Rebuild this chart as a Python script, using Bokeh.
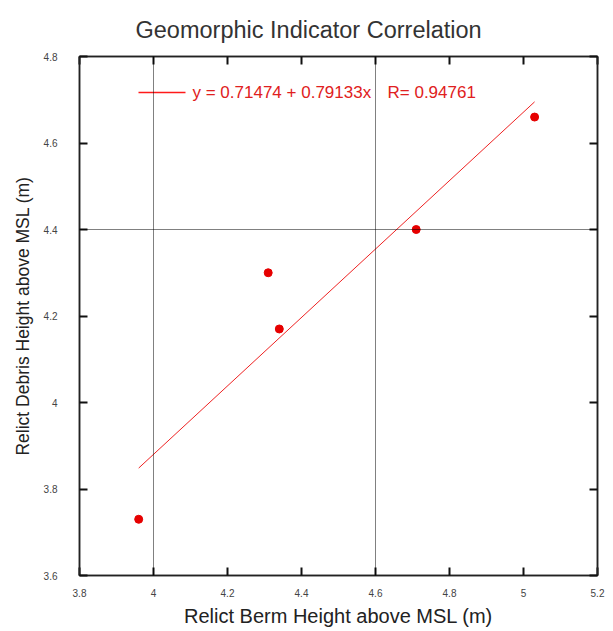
from bokeh.plotting import figure
from bokeh.models import Span, FixedTicker, Range1d, Label, LinearAxis
from bokeh.embed import file_html
from bokeh.resources import INLINE

# data
berm = [3.96, 4.31, 4.34, 4.71, 5.03]
debris = [3.73, 4.30, 4.17, 4.40, 4.66]
fit_intercept = 0.71474
fit_slope = 0.79133
fit_r = 0.94761

x_ticks = [3.8, 4.0, 4.2, 4.4, 4.6, 4.8, 5.0, 5.2]
x_tick_labels = ["3.8", "4", "4.2", "4.4", "4.6", "4.8", "5", "5.2"]
y_ticks = [3.6, 3.8, 4.0, 4.2, 4.4, 4.6, 4.8]
y_tick_labels = ["3.6", "3.8", "4", "4.2", "4.4", "4.6", "4.8"]
grid_x = [4.0, 4.6]
grid_y = [4.4]

FONT = "Liberation Sans"
RED = "#e60000"
XMIN, XMAX = 3.8, 5.2
YMIN, YMAX = 3.6, 4.8
W, H = 605, 629
BL, BR, BT, BB = 79, 8, 56, 54
FW, FH = W - BL - BR, H - BT - BB

p = figure(width=W, height=H, output_backend="svg", toolbar_location=None,
           x_range=Range1d(XMIN, XMAX), y_range=Range1d(YMIN, YMAX),
           min_border_left=BL, min_border_right=BR, min_border_top=BT, min_border_bottom=BB)
p.background_fill_color = "white"
p.border_fill_color = "white"
p.outline_line_color = "#222222"
p.outline_line_width = 1.5
p.xgrid.visible = False
p.ygrid.visible = False

p.title.text = "Geomorphic Indicator Correlation"
p.title.text_font = FONT
p.title.text_font_size = "23.5px"
p.title.text_font_style = "normal"
p.title.text_color = "#333333"
p.title.align = "left"
p.title.offset = 56
p.title.standoff = 27


def style_axis(ax, ticks, labels, show):
    ax.ticker = FixedTicker(ticks=ticks)
    ax.major_label_overrides = {t: (l if show else "") for t, l in zip(ticks, labels)}
    ax.axis_line_color = "#222222"
    ax.axis_line_width = 1.5
    ax.major_tick_line_color = "#111111"
    ax.major_tick_line_width = 2
    ax.major_tick_in = 8
    ax.major_tick_out = 0
    ax.minor_tick_in = 0
    ax.minor_tick_out = 0
    ax.major_label_text_font = FONT
    ax.major_label_text_font_size = "10px"
    ax.major_label_text_color = "#444444"
    ax.axis_label_text_font = FONT
    ax.axis_label_text_font_style = "normal"
    ax.axis_label_text_color = "#222222"
    if not show:
        ax.major_label_standoff = 0


bottom_ax = p.xaxis[0]
left_ax = p.yaxis[0]
style_axis(bottom_ax, x_ticks, x_tick_labels, True)
style_axis(left_ax, y_ticks, y_tick_labels, True)
top_ax = LinearAxis()
style_axis(top_ax, x_ticks, x_tick_labels, False)
p.add_layout(top_ax, "above")
right_ax = LinearAxis()
style_axis(right_ax, y_ticks, y_tick_labels, False)
p.add_layout(right_ax, "right")

bottom_ax.major_label_standoff = 13
left_ax.major_label_standoff = 22
bottom_ax.axis_label = "Relict Berm Height above MSL (m)"
bottom_ax.axis_label_text_font_size = "20px"
bottom_ax.axis_label_standoff = 5
left_ax.axis_label = "Relict Debris Height above MSL (m)"
left_ax.axis_label_text_font_size = "17.5px"
left_ax.axis_label_standoff = 8

for gx in grid_x:
    p.add_layout(Span(location=gx, dimension="height", line_color="#000000",
                      line_width=1, line_dash="1 1"))
for gy in grid_y:
    p.add_layout(Span(location=gy, dimension="width", line_color="#000000",
                      line_width=1, line_dash="1 1"))

# regression line across data extent
fit_x = [min(berm), max(berm)]
fit_y = [fit_intercept + fit_slope * v for v in fit_x]
p.line(fit_x, fit_y, line_color="#ee2222", line_width=1)

p.scatter(berm, debris, size=8, fill_color=RED, line_color=RED, marker="circle")


# positions for the key given in frame pixels
def fx(px):
    return XMIN + px / FW * (XMAX - XMIN)


def fy(px_from_top):
    return YMAX - px_from_top / FH * (YMAX - YMIN)


key_y = fy(36)
p.line([fx(59), fx(106)], [key_y, key_y], line_color="#ff1a1a", line_width=1.5)
eq_text = "y = %.5f + %.5fx" % (fit_intercept, fit_slope)
r_text = "R= %.5f" % fit_r
for px, txt in ((113, eq_text), (308, r_text)):
    p.add_layout(Label(x=fx(px), y=key_y, text=txt, text_font=FONT, text_font_size="17px",
                       text_color="#e02020", text_baseline="middle", text_align="left"))

open("out.html", "w").write(file_html(p, INLINE))
